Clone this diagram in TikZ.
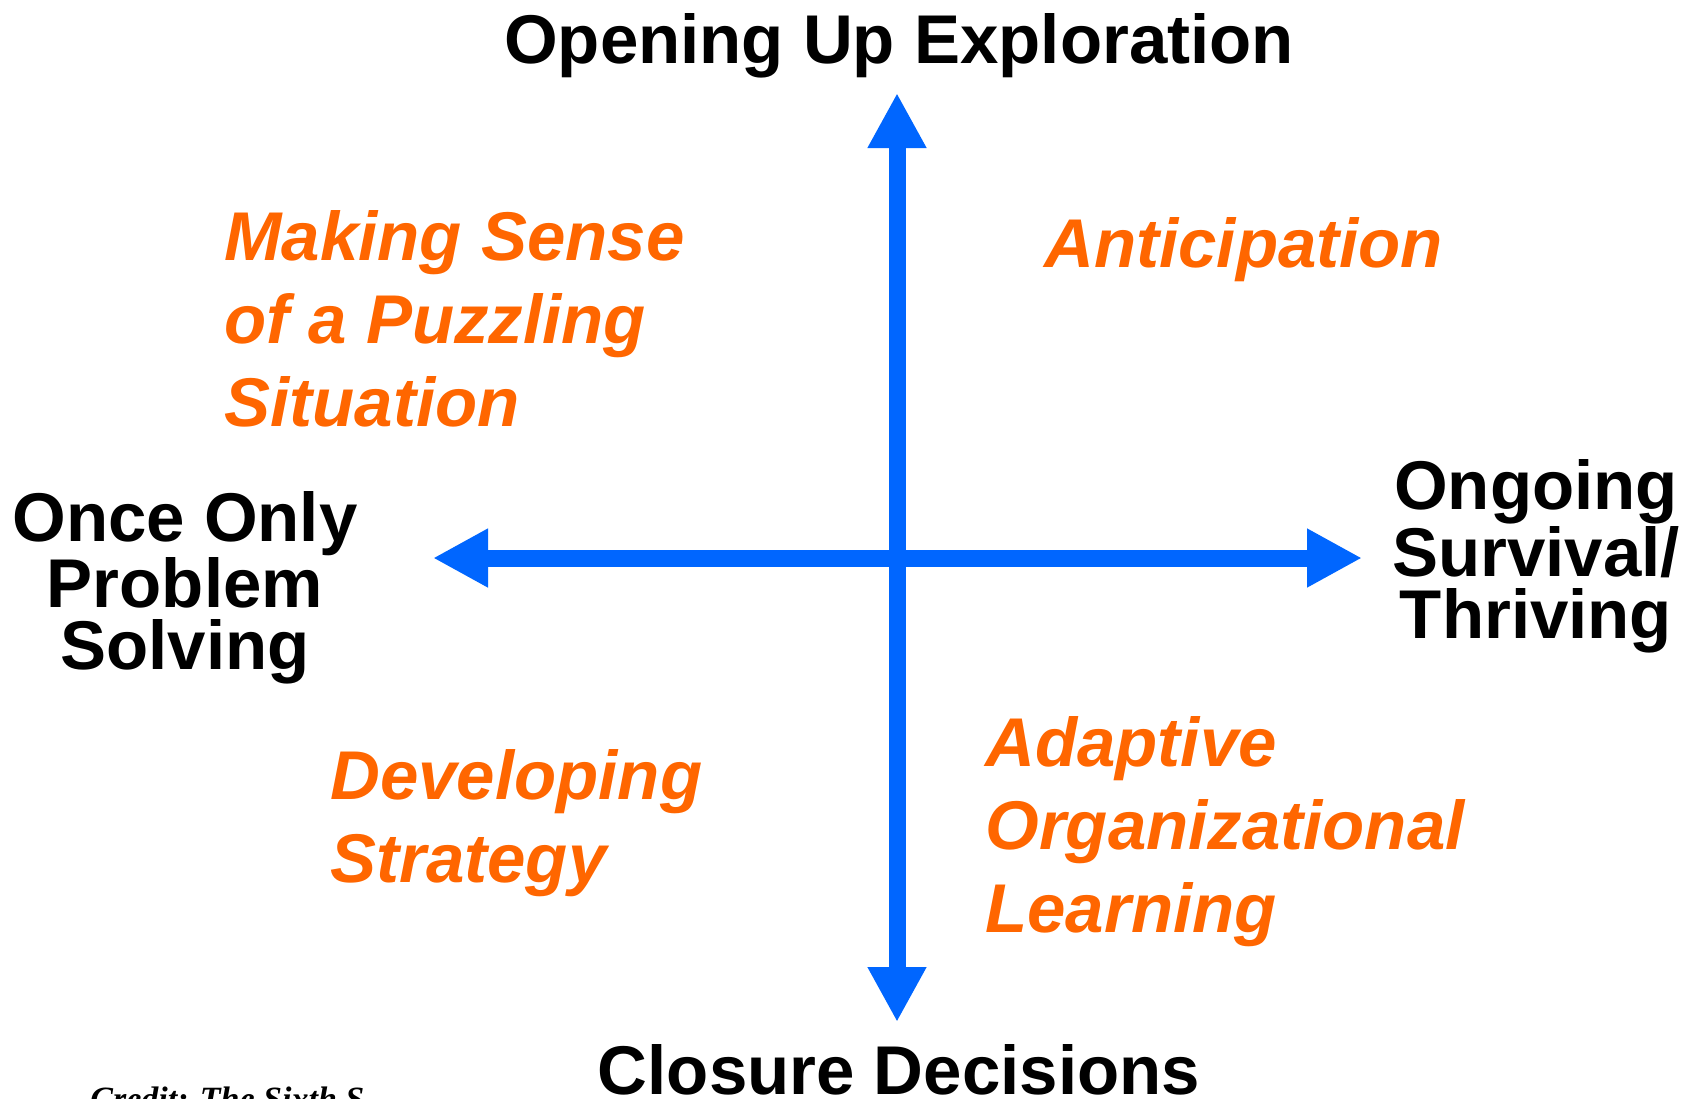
\documentclass[tikz,border=0pt]{standalone}
\usepackage{fontspec}
\setmainfont{Liberation Sans}
\newfontfamily\creditfont{Liberation Serif}
\usetikzlibrary{arrows.meta}
\definecolor{axisblue}{HTML}{0066FF}
\definecolor{quadorange}{HTML}{FF6600}
\begin{document}
\begin{tikzpicture}[x=0.5pt,y=-0.5pt]

\tikzstyle{axisnode} = [inner sep=0pt,font=\fontsize{34.5pt}{31pt}\selectfont\bfseries,align=center];
\tikzstyle{quadnode} = [inner sep=0pt,font=\fontsize{34.5pt}{41.5pt}\selectfont\bfseries\itshape,text=quadorange,align=left];
\tikzstyle{axisline} = [line width=8.5pt,draw=axisblue,{Triangle[length=27.5pt,width=27.5pt,fill=axisblue]}-{Triangle[length=27.5pt,width=27.5pt,fill=axisblue]}];

\useasboundingbox (0,0) rectangle (1695,1098);
\fill [white] (0,0) rectangle (1695,1098);

\coordinate (up) at (897,93);
\coordinate (down) at (897,1022);
\coordinate (left) at (433,558);
\coordinate (right) at (1362,558);

\draw [axisline] (left) -- (right);
\draw [axisline] (down) -- (up);

\node [axisnode,anchor=base] (top) at (899,63) {Opening Up Exploration};
\node [axisnode,anchor=base] (bottom) at (899,1094) {Closure Decisions};
\node [axisnode,anchor=north] (once) at (185,491) {Once Only\\Problem\\Solving};
\node [axisnode,anchor=north] (ongoing) at (1536,459) {Ongoing\\Survival/\\Thriving};

\node [quadnode,anchor=north west] (sense) at (224,210) {Making Sense\\of a Puzzling\\Situation};
\node [quadnode,anchor=base west] (antic) at (1044,267) {Anticipation};
\node [quadnode,anchor=north west] (strat) at (330,749) {Developing\\Strategy};
\node [quadnode,anchor=north west] (adapt) at (985,716) {Adaptive\\Organizational\\Learning};

\node [anchor=base west,inner sep=0pt,font=\creditfont\fontsize{17pt}{19pt}\selectfont\bfseries\itshape] (credit) at (90,1110) {Credit: The Sixth S};

\end{tikzpicture}
\end{document}
